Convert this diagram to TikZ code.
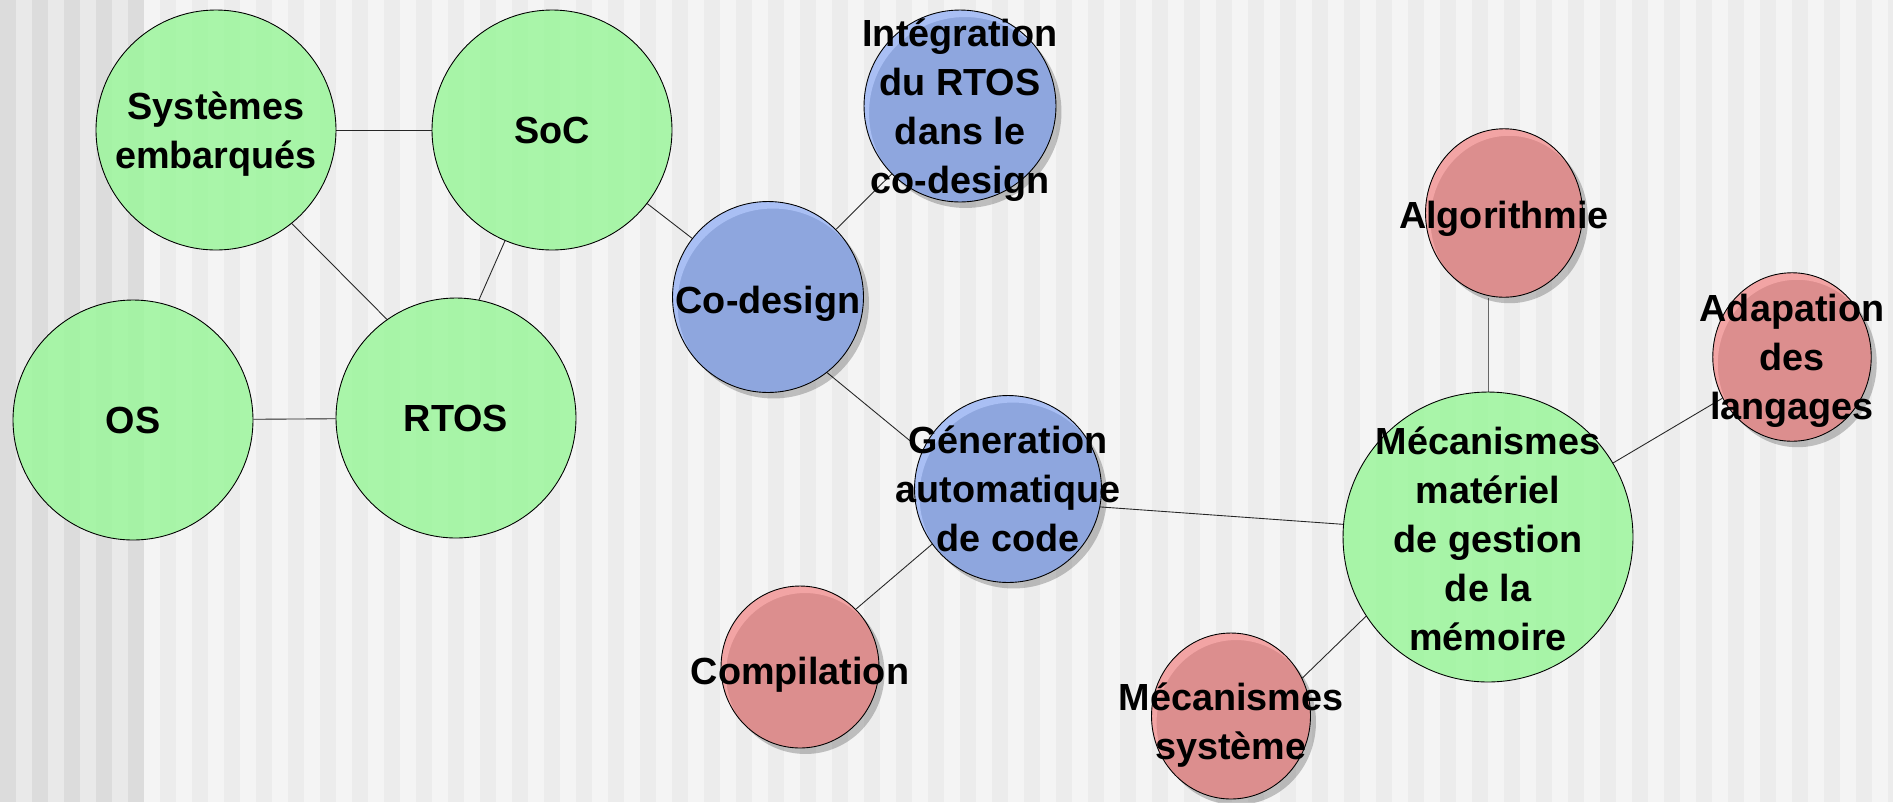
\documentclass[tikz,border=0pt]{standalone}
\usepackage{fontspec}
\setmainfont{Liberation Sans}
\usetikzlibrary{shapes.geometric,shadows,calc}

\definecolor{fondA}{HTML}{DCDCDC}
\definecolor{fondC}{HTML}{E9E9E9}
\definecolor{fondB}{HTML}{ECECEC}
\definecolor{fondD}{HTML}{F4F4F4}
\definecolor{vertB}{HTML}{9CF69C}
\definecolor{bleuB}{HTML}{8EA6DE}
\definecolor{bleuC}{HTML}{A9BFF4}
\definecolor{roseB}{HTML}{DC8E8E}
\definecolor{roseC}{HTML}{F2A4A4}

\pgfdeclarelayer{fond}
\pgfdeclarelayer{liens}
\pgfsetlayers{fond,liens,main}

\begin{document}
\begin{tikzpicture}[x=0.02cm, y=-0.02cm,
    bulle/.style={ellipse, draw=black, line width=0.5pt, inner sep=0pt},
    vert/.style={bulle, fill=vertB, fill opacity=0.85},
    ombre/.style={drop shadow={shadow xshift=0.11cm, shadow yshift=-0.12cm,
        opacity=0.22, fill=black}},
    reflet/.style={path picture={
        \fill[#1, even odd rule]
          let \p1=(path picture bounding box.north east),
              \p2=(path picture bounding box.south west),
              \p3=(path picture bounding box.center)
          in (\p2) rectangle (\p1)
             ($(\p3)+(5,7)$) ellipse ({(\x1-\x2)/2} and {(\y1-\y2)/2});
    }},
    bleu/.style={bulle, ombre, fill=bleuB, reflet=bleuC},
    rose/.style={bulle, ombre, fill=roseB, reflet=roseC},
    txt/.style={align=center, inner sep=0pt,
        font=\fontsize{21.5}{27.8}\selectfont\bfseries},
    lien/.style={draw=black!85, line width=0.5pt}]

    \useasboundingbox (0,0) rectangle (1893,802);

    % fond a bandes verticales
    \begin{pgfonlayer}{fond}
        \fill[fondC] (0,0) rectangle (144,802);
        \fill[fondD] (144,0) rectangle (1893,802);
        \foreach \x in {0,32,...,128}
            \fill[fondA] (\x,0) rectangle ++(16,802);
        \foreach \x in {160,192,...,1888}
            \fill[fondB] (\x,0) rectangle ++(16,802);
    \end{pgfonlayer}

    % bulles vertes
    \node[vert, minimum size=4.8cm] (sys) at (216,130) {};
    \node[vert, minimum size=4.8cm] (soc) at (552,130) {};
    \node[vert, minimum size=4.8cm] (os) at (133,420) {};
    \node[vert, minimum size=4.8cm] (rtos) at (456,418) {};
    \node[vert, minimum size=5.8cm] (mem) at (1488,537) {};

    % bulles bleues
    \node[bleu, minimum size=3.82cm] (cod) at (768,297) {};
    \node[bleu, minimum size=3.84cm] (integ) at (960,106) {};
    \node[bleu, minimum size=3.74cm] (gen) at (1008,489) {};

    % bulles roses
    \node[rose, minimum width=3.16cm, minimum height=3.24cm] (comp) at (800,667) {};
    \node[rose, minimum width=3.14cm, minimum height=3.37cm] (algo) at (1504,213) {};
    \node[rose, minimum width=3.17cm, minimum height=3.37cm] (adap) at (1792,357) {};
    \node[rose, minimum width=3.18cm, minimum height=3.32cm] (msys) at (1231,716) {};

    % textes
    \node[txt] (t-sys) at ($(sys)+(0,4)$) {Systèmes\\embarqués};
    \node[txt] (t-soc) at (soc) {SoC};
    \node[txt] (t-os) at (os) {OS};
    \node[txt] (t-rtos) at (rtos) {RTOS};
    \node[txt] (t-mem) at ($(mem)+(0,2)$) {Mécanismes\\matériel\\de gestion\\de la\\mémoire};
    \node[txt] (t-cod) at ($(cod)+(0,7)$) {Co-design};
    \node[txt] (t-integ) at ($(integ)+(0,4)$) {Intégration\\du RTOS\\dans le\\co-design};
    \node[txt] (t-gen) at (gen) {Géneration\\automatique\\de code};
    \node[txt] (t-comp) at ($(comp)+(0,8)$) {Compilation};
    \node[txt] (t-algo) at ($(algo)+(0,6)$) {Algorithmie};
    \node[txt] (t-adap) at ($(adap)+(0,4)$) {Adapation\\des\\langages};
    \node[txt] (t-msys) at ($(msys)+(0,9)$) {Mécanismes\\système};

    % liens
    \begin{pgfonlayer}{liens}
        \draw[lien] (sys) -- (soc);
        \draw[lien] (sys.-51) -- (rtos.125);
        \draw[lien] (soc.247) -- (rtos.79);
        \draw[lien] (os) -- (rtos);
        \draw[lien] (soc) -- (cod);
        \draw[lien] (cod) -- (integ);
        \draw[lien] (cod.-52) -- (gen.156);
        \draw[lien] (gen.216) -- (comp.46);
        \draw[lien] (gen.-11) -- (mem.175);
        \draw[lien, draw=black!60] (mem.north) -- (mem.north |- algo.south);
        \draw[lien] (mem) -- (adap);
        \draw[lien] (mem.213) -- (msys.28);
    \end{pgfonlayer}
\end{tikzpicture}
\end{document}
